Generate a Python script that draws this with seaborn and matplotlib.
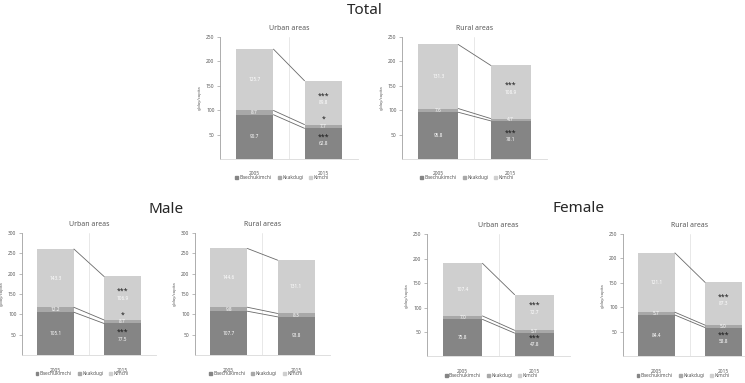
import numpy as np
import pandas as pd
import matplotlib
matplotlib.use("Agg")
import matplotlib.pyplot as plt
from matplotlib.patches import Patch
import seaborn as sns

# panels, in drawing order
groups = ["Total", "Total", "Male", "Male", "Female", "Female"]
areas = ["Urban areas", "Rural areas", "Urban areas", "Rural areas", "Urban areas", "Rural areas"]
years = ["2005", "2015"]
y_max = [250, 250, 300, 300, 250, 250]

# g/day/capita, [2005, 2015] per panel
baechukimchi = [[90.7, 62.8], [95.8, 78.1], [105.1, 77.5], [107.7, 93.8], [75.8, 47.8], [84.4, 58.8]]
kkakdugi = [[8.7, 7.7], [7.6, 4.7], [12.2, 8.7], [9.8, 8.3], [7.0, 5.7], [5.7, 5.0]]
kimchi = [[125.7, 89.8], [131.3, 108.9], [143.3, 106.9], [144.6, 131.1], [107.4, 72.7], [121.1, 87.3]]

# significance marks (2005 vs 2015)
stars_baechu = [["", "***"], ["", "***"], ["", "***"], ["", ""], ["", "***"], ["", "***"]]
stars_kkakdugi = [["", "*"], ["", ""], ["", "*"], ["", ""], ["", ""], ["", ""]]
stars_kimchi = [["", "***"], ["", "***"], ["", "***"], ["", ""], ["", "***"], ["", "***"]]

series_names = ["Baechukimchi", "Kkakdugi", "Kimchi"]
colors = ["#858585", "#a8a8a8", "#cfcfcf"]

# axes boxes in figure fractions [left, bottom, width, height]
boxes = [
    [0.2953, 0.5849, 0.1852, 0.3185],
    [0.5396, 0.5849, 0.1946, 0.3185],
    [0.0295, 0.0731, 0.1799, 0.3185],
    [0.2617, 0.0731, 0.1812, 0.3185],
    [0.5732, 0.0692, 0.1919, 0.3198],
    [0.8362, 0.0695, 0.1799, 0.3198],
]

sns.set_theme(style="white")
plt.rcParams["font.family"] = ["Noto Sans", "DejaVu Sans"]

text_gray = "#595959"
bar_w = 0.55

fig = plt.figure(figsize=(7.45, 3.83), dpi=100)

for i in range(6):
    ax = fig.add_axes(boxes[i])
    b = np.array(baechukimchi[i])
    k = np.array(kkakdugi[i])
    c = np.array(kimchi[i])
    df = pd.DataFrame({"year": years, "b": b, "bk": b + k, "total": b + k + c})

    # stacked look: draw cumulative heights from the top down
    for col, colr in zip(["total", "bk", "b"], colors[::-1]):
        sns.barplot(data=df, x="year", y=col, color=colr, width=bar_w,
                    saturation=1, ax=ax, edgecolor="none")

    # series lines between the bars
    for col in ["b", "bk", "total"]:
        ax.plot([bar_w / 2, 1 - bar_w / 2], df[col].values, color="#6a6a6a", lw=0.6)

    # value labels and stars
    segs = [(np.zeros(2), b, stars_baechu[i]),
            (b, k, stars_kkakdugi[i]),
            (b + k, c, stars_kimchi[i])]
    for bottom, h, st in segs:
        for j in range(2):
            yc = bottom[j] + h[j] / 2
            ax.text(j, yc, f"{h[j]:.1f}", ha="center", va="center",
                    fontsize=3.4, color="white")
            if st[j]:
                ax.annotate(st[j], (j, yc), xytext=(0, 5), textcoords="offset points",
                            ha="center", va="center", fontsize=5, fontweight="bold",
                            color="#1a1a1a")

    ax.set_xlim(-0.5, 1.5)
    ax.set_ylim(0, y_max[i])
    ax.set_yticks(np.arange(50, y_max[i] + 1, 50))
    ax.axvline(0.5, color="#e4e4e4", lw=0.6, zorder=0)
    ax.axvline(1.5, color="#e4e4e4", lw=0.6, zorder=0)
    for s in ["top", "right"]:
        ax.spines[s].set_visible(False)
    ax.spines["left"].set_color("#a0a0a0")
    ax.spines["left"].set_linewidth(0.6)
    ax.spines["bottom"].set_color("#d9d9d9")
    ax.spines["bottom"].set_linewidth(0.6)
    ax.tick_params(axis="y", left=True, length=2, width=0.5, color="#a0a0a0",
                   labelsize=3.5, labelcolor=text_gray, pad=2)
    ax.tick_params(axis="x", bottom=False, labelsize=3.5, labelcolor=text_gray, pad=3)
    ax.set_xlabel("")
    ax.set_ylabel("g/day/capita", fontsize=3, color=text_gray, labelpad=3)
    ax.set_title(areas[i], fontsize=5, color=text_gray, pad=5)

    handles = [Patch(color=colr, label=n) for n, colr in zip(series_names, colors)]
    ax.legend(handles=handles, loc="center", bbox_to_anchor=(0.45, -0.155),
              ncol=3, frameon=False, fontsize=3.5, handlelength=0.6, handleheight=0.6,
              handletextpad=0.3, columnspacing=1.2, labelcolor=text_gray,
              borderpad=0, borderaxespad=0)

fig.text(0.49, 0.972, "Total", ha="center", va="center", fontsize=11)
fig.text(0.223, 0.452, "Male", ha="center", va="center", fontsize=11)
fig.text(0.777, 0.455, "Female", ha="center", va="center", fontsize=11)

fig.savefig("out.png", dpi=100)
